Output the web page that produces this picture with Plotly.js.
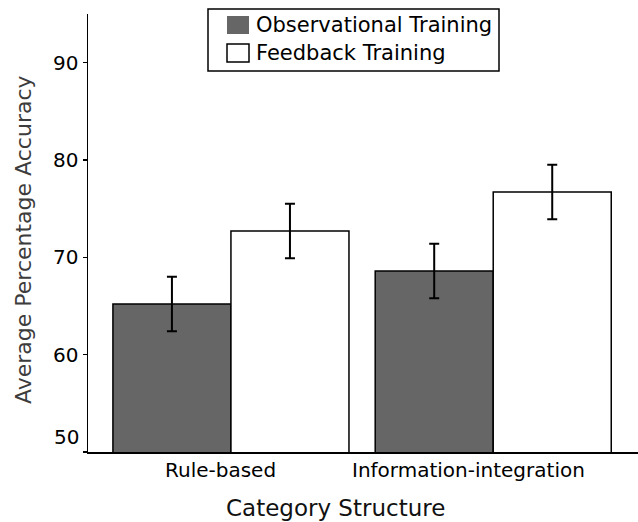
<!DOCTYPE html>
<html>
<head>
<meta charset="utf-8">
<script src="https://cdn.plot.ly/plotly-3.0.1.min.js"></script>
<style>
  html, body { margin: 0; padding: 0; background: #fff; }
  #chart { width: 638px; height: 522px; }
</style>
</head>
<body>
<div id="chart"></div>
<script>
// Accuracy by category structure and training type (means with error bars)
const categories = ['Rule-based', 'Information-integration'];
const seriesNames = ['Observational Training', 'Feedback Training'];
const observational = [65.2, 68.6];
const feedback = [72.7, 76.7];
const observationalErr = [2.8, 2.8];
const feedbackErr = [2.8, 2.8];
const yTicks = [50, 60, 70, 80, 90];

const FONT = 'DejaVu Sans, Verdana, sans-serif';
const W = 638, H = 522;
const M = { l: 88, r: 0, t: 14, b: 70 };
const plotW = W - M.l - M.r, plotH = H - M.t - M.b;
// pixel -> paper coordinates, for the hand-drawn legend and titles
const px = x => (x - M.l) / plotW;
const py = y => (H - M.b - y) / plotH;

const barLine = { color: '#000', width: 1.5 };
const errStyle = { type: 'data', visible: true, color: '#000', thickness: 2, width: 5 };

const traces = [
  {
    type: 'bar', name: seriesNames[0], x: categories, y: observational,
    marker: { color: '#666666', line: barLine },
    error_y: Object.assign({ array: observationalErr }, errStyle),
    showlegend: false
  },
  {
    type: 'bar', name: seriesNames[1], x: categories, y: feedback,
    marker: { color: '#ffffff', line: barLine },
    error_y: Object.assign({ array: feedbackErr }, errStyle),
    showlegend: false
  }
];

const legendColors = ['#666666', '#ffffff'];
const shapes = [
  { type: 'rect', xref: 'paper', yref: 'paper', x0: px(208), x1: px(499), y0: py(9), y1: py(71),
    line: { color: '#000', width: 1.5 }, fillcolor: '#fff', layer: 'above' }
];
const annotations = [];
const rowY = [25, 53];
seriesNames.forEach((name, i) => {
  shapes.push({ type: 'rect', xref: 'paper', yref: 'paper',
    x0: px(227), x1: px(249), y0: py(rowY[i] - 9), y1: py(rowY[i] + 9),
    line: { color: '#000', width: i === 0 ? 0 : 1.5 }, fillcolor: legendColors[i], layer: 'above' });
  annotations.push({ xref: 'paper', yref: 'paper', x: px(254), y: py(rowY[i]),
    xanchor: 'left', yanchor: 'middle', showarrow: false, text: name,
    font: { family: FONT, size: 21, color: '#000' } });
});

// category labels, set a little left of their bar groups
const labelShift = [-10, -25];
categories.forEach((c, i) => {
  annotations.push({ xref: 'x', yref: 'paper', x: c, y: py(470), xshift: labelShift[i],
    xanchor: 'center', yanchor: 'middle', showarrow: false, text: c,
    font: { family: FONT, size: 20, color: '#000' } });
});

// axis titles
annotations.push({ xref: 'paper', yref: 'paper', x: px(335), y: py(508),
  xanchor: 'center', yanchor: 'middle', showarrow: false, text: 'Category Structure',
  font: { family: FONT, size: 23, color: '#111' } });
annotations.push({ xref: 'paper', yref: 'paper', x: px(23), y: py(240),
  xanchor: 'center', yanchor: 'middle', showarrow: false, textangle: -90,
  text: 'Average Percentage Accuracy', font: { family: FONT, size: 22, color: '#3c3c3c' } });
// the lowest tick label sits a little above its tick
annotations.push({ xref: 'paper', yref: 'y', x: px(81), y: yTicks[0] + 1.5,
  xanchor: 'right', yanchor: 'middle', showarrow: false, text: String(yTicks[0]),
  font: { family: FONT, size: 20, color: '#000' } });

const layout = {
  width: W, height: H,
  margin: M,
  paper_bgcolor: '#fff', plot_bgcolor: '#fff',
  barmode: 'group', bargap: 0.1, bargroupgap: 0,
  showlegend: false,
  xaxis: {
    type: 'category', range: [-0.545, 1.552],
    showline: true, linecolor: '#000', linewidth: 1.5,
    ticks: '', showgrid: false, zeroline: false, showticklabels: false
  },
  yaxis: {
    range: [50, 95], tickvals: yTicks,
    ticktext: yTicks.map((v, i) => i === 0 ? '' : String(v)),
    showline: true, linecolor: '#000', linewidth: 1.5,
    ticks: 'outside', ticklen: 4, tickwidth: 1.5, tickcolor: '#000',
    showgrid: false, zeroline: false,
    tickfont: { family: FONT, size: 20, color: '#000' }
  },
  shapes: shapes,
  annotations: annotations
};

Plotly.newPlot('chart', traces, layout, { displayModeBar: false, staticPlot: true });
</script>
</body>
</html>
